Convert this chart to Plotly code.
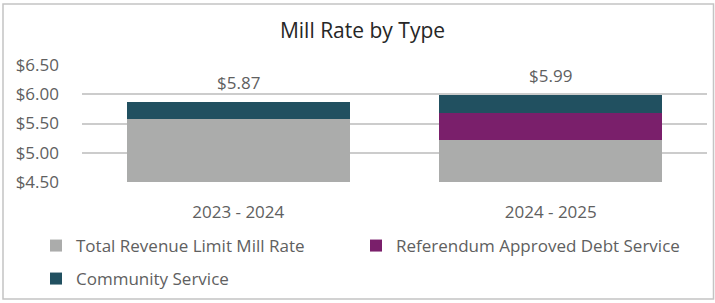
import plotly.graph_objects as go

categories = ["2023 - 2024", "2024 - 2025"]
total_revenue = [5.58, 5.22]
referendum = [0.0, 0.46]
community = [0.29, 0.31]
y_ticks = [4.5, 5.0, 5.5, 6.0, 6.5]
y_tick_labels = ["$4.50", "$5.00", "$5.50", "$6.00", "$6.50"]

FONT = "Open Sans"
TXT = "#606060"
FS = 17

# plot area in px: x 82..707, y 65..182
L, R, T, B = 82, 8, 65, 121
W, H = 715, 303
pw, ph = W - L - R, H - T - B

def px_x(p):
    return (p - L) / pw

def px_y(p):
    return (H - B - p) / ph

fig = go.Figure()
fig.add_trace(go.Bar(x=categories, y=total_revenue, name="Total Revenue Limit Mill Rate",
                     marker=dict(color="#ABACAB", line=dict(width=0)), legend="legend",
                     showlegend=True))
fig.add_trace(go.Bar(x=categories, y=referendum, name="Referendum Approved Debt Service",
                     marker=dict(color="#7A1F6B", line=dict(width=0)), legend="legend2",
                     showlegend=True))
fig.add_trace(go.Bar(x=categories, y=community, name="Community Service",
                     marker=dict(color="#215060", line=dict(width=0)), legend="legend3",
                     showlegend=True))

totals = [a + b + c for a, b, c in zip(total_revenue, referendum, community)]
for cat, tot in zip(categories, totals):
    fig.add_annotation(x=cat, y=tot, text=f"${tot:.2f}", showarrow=False,
                       yanchor="middle", yshift=19, font=dict(family=FONT, size=FS, color=TXT))

fig.add_shape(type="rect", xref="paper", yref="paper",
              x0=px_x(3), x1=px_x(713.5), y0=px_y(299), y1=px_y(4),
              line=dict(color="#c4c4c4", width=1.5), fillcolor="rgba(0,0,0,0)", layer="below")

leg_common = dict(orientation="v", xanchor="left", yanchor="middle", itemwidth=30,
                  xref="container", yref="container",
                  font=dict(family=FONT, size=FS, color=TXT), bgcolor="rgba(0,0,0,0)",
                  traceorder="normal")

fig.update_layout(
    width=W, height=H,
    margin=dict(l=L, r=R, t=T, b=B, autoexpand=False),
    showlegend=True,
    paper_bgcolor="white", plot_bgcolor="white",
    barmode="stack", bargap=0.285,
    font=dict(family=FONT, size=FS, color=TXT),
    title=dict(text="Mill Rate by Type", x=0.507, xref="container", xanchor="center",
               y=1 - 31 / H, yref="container", yanchor="middle",
               font=dict(family=FONT, size=21, color="#262626")),
    xaxis=dict(showgrid=False, showline=False, zeroline=False, ticks="",
               ticklabelstandoff=18, tickfont=dict(family=FONT, size=FS, color=TXT)),
    yaxis=dict(range=[4.5, 6.5], tickvals=y_ticks, ticktext=y_tick_labels,
               showgrid=True, gridcolor="#cccccc", gridwidth=1.5, zeroline=False,
               showline=False, ticks="", ticklabelstandoff=22,
               tickfont=dict(family=FONT, size=FS, color=TXT)),
    legend=dict(x=36 / W, y=1 - 246 / H, **leg_common),
    legend2=dict(x=356 / W, y=1 - 246 / H, **leg_common),
    legend3=dict(x=36 / W, y=1 - 279 / H, **leg_common),
)

fig.write_html("out.html", config={"displayModeBar": False},
               post_script="document.body.style.margin='0';")
